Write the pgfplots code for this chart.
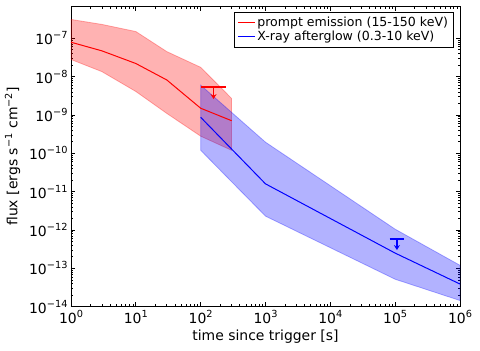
\documentclass[border=0pt]{standalone}
\usepackage{fontspec}
\setmainfont{DejaVu Sans}
\usepackage{pgfplots}
\pgfplotsset{compat=1.18}
\usetikzlibrary{arrows.meta}

% superscript exponent, matplotlib style
\newcommand{\sx}[1]{\raisebox{0.42em}{\fontsize{9.8}{10}\selectfont #1}}
\newcommand{\logtick}{\pgfmathtruncatemacro\myexp{round(\tick/2.302585093)}%
  10\sx{\ifnum\myexp<0 −\number-\myexp\else\number\myexp\fi}}

\begin{document}
\begin{tikzpicture}
\begin{axis}[
    name=ax,
    xmode=log, ymode=log,
    scale only axis, width=389bp, height=300.7bp,
    xmin=1, xmax=1e6, ymin=1e-14, ymax=6.95e-7,
    xtick={1,10,100,1000,10000,100000,1000000},
    ytick={1e-14,1e-13,1e-12,1e-11,1e-10,1e-9,1e-8,1e-7},
    xticklabel={\logtick}, yticklabel={\logtick},
    tick label style={font=\fontsize{14}{16}\selectfont},
    tick align=inside,
    major tick length=4.5bp, minor tick length=2.5bp,
    every tick/.style={black, line width=0.7bp},
    axis line style={line width=0.9bp},
    xlabel={time since trigger [s]},
    ylabel={flux [ergs s\textsuperscript{−1} cm\textsuperscript{−2}]},
    every axis x label/.style={at={(axis description cs:0.5,-0.1)}, anchor=center,
        font=\fontsize{14}{16}\selectfont},
    every axis y label/.style={at={(axis description cs:-0.150,0.5)}, anchor=center,
        rotate=90, font=\fontsize{14}{16}\selectfont},
    legend style={at={(0.983,0.98)}, anchor=north east,
        font=\fontsize{12.6}{13}\selectfont, line width=0.8bp,
        inner xsep=3bp, inner ysep=2.5bp, row sep=-0.5bp},
    legend cell align=left,
]
% prompt emission band (upper, then lower reversed)
\addplot[forget plot, fill=red, draw=red, opacity=0.3, line width=0.8bp] coordinates {
    (1,3.1e-7) (3,2.3e-7) (10,1.5e-7) (30,4.5e-8) (100,1.75e-8) (300,2.7e-9)
    (300,1.2e-10) (100,2.8e-10) (30,1.1e-9) (10,4.1e-9) (3,1.35e-8) (1,2.8e-8) } -- cycle;
% X-ray afterglow band
\addplot[forget plot, fill=blue, draw=blue, opacity=0.3, line width=0.8bp] coordinates {
    (100,6e-9) (1000,1.95e-10) (1e5,1.05e-12) (1e6,1.2e-13)
    (1e6,1.45e-14) (1e5,5.2e-14) (1000,2.3e-12) (100,1.2e-10) } -- cycle;
% central curves
\addplot[red, line width=1bp] coordinates {
    (1,7.9e-8) (3,4.7e-8) (10,2.2e-8) (30,8.2e-9) (100,1.5e-9) (300,7.1e-10) };
\addlegendentry{prompt emission (15-150 keV)}
\addplot[blue, line width=1bp] coordinates {
    (100,8.7e-10) (1000,1.6e-11) (1e5,2.5e-13) (1e6,3.9e-14) };
\addlegendentry{X-ray afterglow (0.3-10 keV)}
% upper limits
\addplot[forget plot, red, line width=1.6bp] coordinates {(101,5.3e-9) (247,5.3e-9)};
\addplot[forget plot, red, line width=1.4bp, -{Stealth[length=5bp,width=6bp]}] coordinates {(158,5.3e-9) (158,2.6e-9)};
\addplot[forget plot, blue, line width=1.6bp] coordinates {(8.2e4,5.8e-13) (1.39e5,5.8e-13)};
\addplot[forget plot, blue, line width=1.4bp, -{Stealth[length=5bp,width=6bp]}] coordinates {(1.065e5,5.8e-13) (1.065e5,3e-13)};
\end{axis}
\pgfresetboundingbox
\path ([shift={(-71bp,-44.3bp)}]ax.south west) rectangle ([shift={(20bp,6bp)}]ax.north east);
\end{tikzpicture}
\end{document}
